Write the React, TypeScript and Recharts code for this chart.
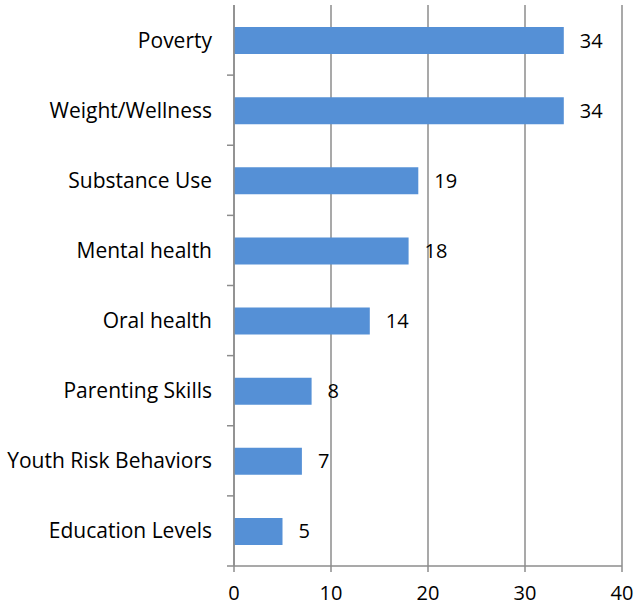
import React from "react";
import { BarChart, Bar, XAxis, YAxis, CartesianGrid, LabelList } from "recharts";

const categories = [
  "Poverty",
  "Weight/Wellness",
  "Substance Use",
  "Mental health",
  "Oral health",
  "Parenting Skills",
  "Youth Risk Behaviors",
  "Education Levels",
];
const values = [34, 34, 19, 18, 14, 8, 7, 5];
const xTicks = [0, 10, 20, 30, 40];
const boundaryTicks = [0, 1, 2, 3, 4, 5, 6, 7, 8];

const data = categories.map((name, i) => ({ name, value: values[i] }));

const FONT = "'Open Sans', 'Liberation Sans', sans-serif";
const GRID = "#8c8c8c";
const FS = 20;

const EmptyTick = () => <g />;

export default function App() {
  return (
    <div style={{ position: "absolute", left: 0, top: 0, background: "#fff" }}>
      <BarChart
        width={636}
        height={611}
        data={data}
        layout="vertical"
        margin={{ top: 5, right: 14, bottom: 0, left: 0 }}
        style={{ fontFamily: FONT }}
      >
        <CartesianGrid horizontal={false} vertical={true} stroke={GRID} strokeWidth={1.5} />
        <XAxis
          type="number"
          domain={[0, 40]}
          ticks={xTicks}
          height={45}
          tickSize={6}
          tickMargin={14}
          stroke={GRID}
          axisLine={{ stroke: GRID, strokeWidth: 1.5 }}
          tickLine={{ stroke: GRID, strokeWidth: 1.5 }}
          tick={{ fill: "#000", fontSize: FS, fontFamily: FONT }}
        />
        <YAxis
          yAxisId="b"
          type="category"
          dataKey="name"
          width={227}
          tickSize={0}
          tickMargin={15}
          tickLine={false}
          axisLine={false}
          tick={{ fill: "#000", fontSize: 21, fontFamily: FONT }}
          interval={0}
        />
        <YAxis
          yAxisId="a"
          type="number"
          dataKey="value"
          domain={[0, 8]}
          ticks={boundaryTicks}
          allowDataOverflow
          width={7}
          tickSize={7}
          axisLine={{ stroke: GRID, strokeWidth: 1.5 }}
          tickLine={{ stroke: GRID, strokeWidth: 1.5 }}
          tick={EmptyTick}
        />
        <Bar yAxisId="b" dataKey="value" fill="#5590D6" barSize={27} isAnimationActive={false}>
          <LabelList
            dataKey="value"
            position="right"
            offset={16}
            fill="#000"
            fontSize={FS}
            fontFamily={FONT}
          />
        </Bar>
      </BarChart>
    </div>
  );
}
